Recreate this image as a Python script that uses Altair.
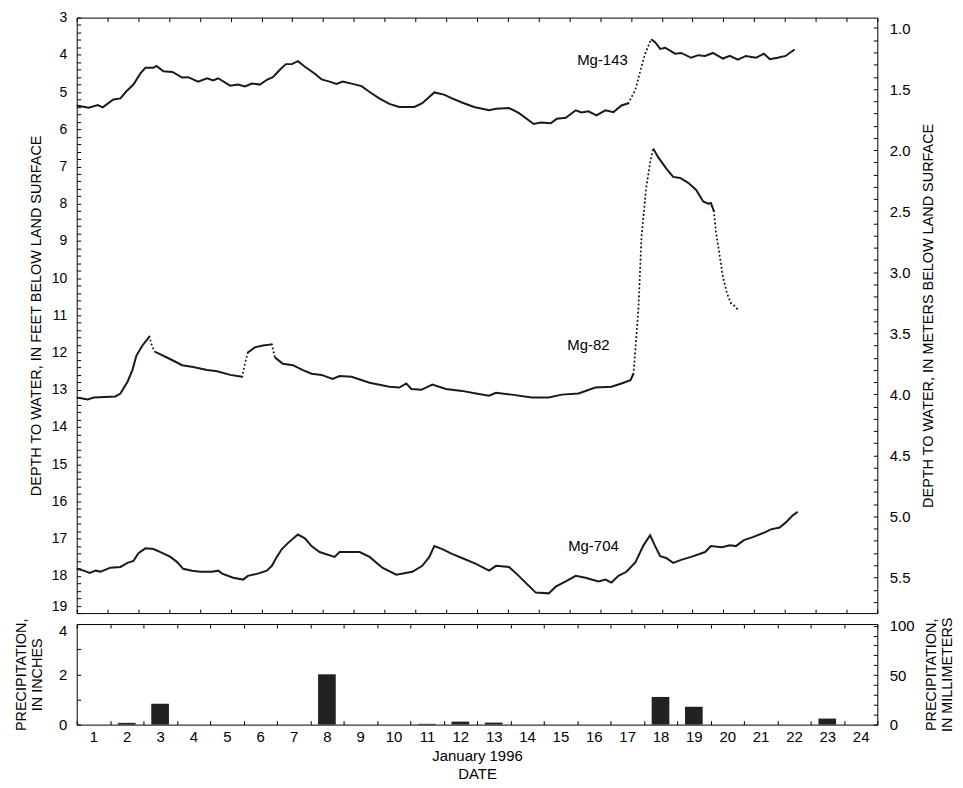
import altair as alt
import pandas as pd

FONT = "Liberation Sans"

# ---- Hydrograph data (day of January 1996, depth in feet) ----
mg143_day = [1.00, 1.36, 1.63, 1.78, 2.10, 2.31, 2.49, 2.70, 2.91, 3.06, 3.30, 3.39, 3.60, 3.87,
             4.16, 4.34, 4.64, 4.91, 5.09, 5.24, 5.60, 5.84, 6.04, 6.25, 6.49, 6.70, 6.88, 7.09,
             7.27, 7.45, 7.63, 7.84, 8.13, 8.34, 8.58, 8.79, 8.97, 9.27, 9.54, 9.78, 10.07, 10.37,
             10.67, 11.12, 11.36, 11.72, 12.01, 12.25, 12.55, 12.91, 13.36, 13.57, 13.96, 14.25,
             14.70, 14.91, 15.21, 15.39, 15.66, 15.96, 16.13, 16.34, 16.58, 16.85, 17.09, 17.33,
             17.54, 17.75, 17.93, 18.04, 18.22, 18.34, 18.49, 18.64, 18.94, 19.12, 19.42, 19.63,
             19.84, 20.07, 20.37, 20.58, 20.82, 21.06, 21.36, 21.60, 21.78, 22.01, 22.25, 22.40, 22.52]
mg143_ft = [5.36, 5.42, 5.35, 5.41, 5.20, 5.17, 4.98, 4.80, 4.50, 4.35, 4.35, 4.30, 4.44, 4.46,
            4.61, 4.60, 4.72, 4.63, 4.69, 4.63, 4.83, 4.80, 4.85, 4.77, 4.80, 4.67, 4.60, 4.40,
            4.25, 4.25, 4.17, 4.32, 4.50, 4.66, 4.72, 4.78, 4.72, 4.78, 4.84, 5.00, 5.17, 5.32,
            5.40, 5.40, 5.30, 5.01, 5.07, 5.17, 5.28, 5.40, 5.49, 5.45, 5.43, 5.56,
            5.86, 5.82, 5.84, 5.72, 5.69, 5.49, 5.55, 5.52, 5.63, 5.49, 5.54, 5.36,
            5.30, 4.93, 4.32, 3.97, 3.58, 3.66, 3.84, 3.81, 3.97, 3.95, 4.08, 4.01,
            4.03, 3.95, 4.10, 4.03, 4.13, 4.03, 4.08, 3.97, 4.12, 4.08, 4.03, 3.93, 3.86]

mg82_day = [1.00, 1.33, 1.51, 2.16, 2.31, 2.52, 2.67, 2.79, 2.97, 3.18, 3.27, 3.36, 3.45, 3.81,
            4.16, 4.49, 4.91, 5.21, 5.60, 5.96, 6.04, 6.13, 6.34, 6.58, 6.85, 6.94, 7.18, 7.48,
            7.78, 8.04, 8.34, 8.67, 8.88, 9.24, 9.78, 10.37, 10.67, 10.88, 11.03, 11.33, 11.66,
            12.07, 12.55, 12.97, 13.36, 13.57, 14.04, 14.64, 15.15, 15.54, 16.04, 16.55, 17.03,
            17.33, 17.60, 17.69, 17.78, 17.84, 17.93, 18.07, 18.19, 18.28, 18.43, 18.67, 18.88,
            19.09, 19.33, 19.57, 19.78, 19.93, 20.01, 20.10, 20.16, 20.28, 20.37, 20.49, 20.61,
            20.73, 20.82]
mg82_ft = [13.21, 13.26, 13.21, 13.18, 13.10, 12.79, 12.47, 12.08, 11.81, 11.57, 11.86, 11.99, 12.02, 12.18,
           12.34, 12.39, 12.47, 12.50, 12.60, 12.65, 12.31, 12.00, 11.86, 11.81, 11.78, 12.13, 12.30, 12.34,
           12.47, 12.57, 12.60, 12.71, 12.63, 12.65, 12.81, 12.92, 12.94, 12.83, 12.98, 13.00, 12.86,
           12.98, 13.03, 13.10, 13.16, 13.08, 13.13, 13.21, 13.21, 13.13, 13.10, 12.94, 12.92,
           12.83, 12.74, 12.57, 11.54, 10.80, 8.90, 7.58, 6.89, 6.52, 6.75, 7.05, 7.28,
           7.31, 7.44, 7.63, 7.94, 8.00, 7.98, 8.20, 8.74, 9.43, 9.96, 10.40, 10.67,
           10.75, 10.85]

mg704_day = [1.00, 1.21, 1.39, 1.57, 1.72, 2.01, 2.31, 2.52, 2.70, 2.85, 3.06, 3.30, 3.51, 3.81,
             4.01, 4.19, 4.46, 4.70, 5.06, 5.24, 5.36, 5.69, 5.99, 6.13, 6.43, 6.70, 6.85, 7.00,
             7.15, 7.33, 7.63, 7.84, 8.04, 8.28, 8.73, 8.88, 9.48, 9.78, 10.16, 10.58, 11.06,
             11.36, 11.57, 11.72, 11.96, 12.25, 12.55, 12.97, 13.36, 13.57, 13.96, 14.25, 14.76,
             15.15, 15.36, 15.66, 15.96, 16.25, 16.64, 16.85, 17.03, 17.24, 17.48, 17.75, 17.99,
             18.19, 18.34, 18.49, 18.67, 18.88, 19.12, 19.42, 19.84, 20.01, 20.34, 20.58, 20.76,
             21.00, 21.27, 21.63, 21.81, 22.07, 22.25, 22.46, 22.61]
mg704_ft = [17.81, 17.86, 17.92, 17.86, 17.89, 17.78, 17.76, 17.65, 17.60, 17.39, 17.26, 17.28, 17.36, 17.49,
            17.63, 17.81, 17.86, 17.89, 17.89, 17.86, 17.94, 18.05, 18.10, 18.00, 17.94, 17.86, 17.73, 17.49,
            17.28, 17.12, 16.89, 16.99, 17.20, 17.36, 17.49, 17.36, 17.36, 17.49, 17.78, 17.97, 17.89,
            17.73, 17.49, 17.20, 17.28, 17.41, 17.52, 17.68, 17.86, 17.73, 17.76, 18.00, 18.45,
            18.47, 18.29, 18.15, 18.00, 18.05, 18.15, 18.10, 18.18, 18.00, 17.89, 17.63, 17.18,
            16.91, 17.20, 17.47, 17.52, 17.65, 17.57, 17.49, 17.36, 17.20, 17.23, 17.18, 17.20,
            17.04, 16.96, 16.83, 16.75, 16.70, 16.57, 16.38, 16.28]

# Stretches drawn as sparse dots in the original (day ranges)
mg143_dotted = [(17.54, 18.22)]
mg82_dotted = [(3.18, 3.36), (5.96, 6.13), (6.85, 6.94), (17.69, 18.28), (20.10, 20.82)]
mg704_dotted = []

# ---- Well labels ----
label_names = ["Mg-143", "Mg-82", "Mg-704"]
label_day = [16.76, 16.34, 16.49]
label_ft = [4.14, 11.81, 17.20]

# ---- Daily precipitation (inches) ----
precip_days = list(range(1, 25))
precip_in = [0, 0.07, 0.83, 0, 0, 0, 0, 2.0, 0, 0, 0.03, 0.12,
             0.08, 0, 0, 0, 0, 1.10, 0.71, 0, 0, 0, 0.24, 0]

FT_PER_M = 3.2808
MM_PER_IN = 25.4


def segments(name, days, fts, dotted):
    """Split a series into solid / dotted runs, sharing boundary points."""
    def style_of(d0, d1):
        for a, b in dotted:
            if d0 >= a - 1e-9 and d1 <= b + 1e-9:
                return "dotted"
        return "solid"
    out = []
    seg = 0
    prev_style = None
    for i in range(len(days) - 1):
        st = style_of(days[i], days[i + 1])
        if st != prev_style:
            seg += 1
            prev_style = st
        for j in (i, i + 1):
            out.append({"series": name, "seg": f"{name}-{seg}", "style": st,
                        "order": j, "day": days[j], "ft": fts[j], "m": fts[j] / FT_PER_M})
    return out


rows = []
rows += segments("Mg-143", mg143_day, mg143_ft, mg143_dotted)
rows += segments("Mg-82", mg82_day, mg82_ft, mg82_dotted)
rows += segments("Mg-704", mg704_day, mg704_ft, mg704_dotted)
df = pd.DataFrame(rows).drop_duplicates(subset=["seg", "order"])
lab_df = pd.DataFrame({"name": label_names, "day": label_day, "ft": label_ft})
pdf = pd.DataFrame({"day": precip_days, "inches": precip_in})
pdf["mm"] = pdf["inches"] * MM_PER_IN

W = 804
H_TOP = 598
H_BOT = 101
TICK = 4

day_scale = alt.Scale(domain=[1, 25], nice=False, zero=False)
ft_scale = alt.Scale(domain=[3, 19], reverse=True, nice=False, zero=False)
m_scale = alt.Scale(domain=[3 / FT_PER_M, 19 / FT_PER_M], reverse=True, nice=False, zero=False)

x_top_ticks = [round(1 + k * 24 / 26, 4) for k in range(27)]
ft_ticks = [round(3 + 0.2 * k, 1) for k in range(81)]
m_ticks = [round(1.0 + 0.1 * k, 1) for k in range(48)]

common_axis = dict(domain=False, grid=False, tickSize=TICK, offset=-TICK, tickColor="black",
                   labelFont=FONT, titleFont=FONT, labelColor="black", titleColor="black",
                   titleFontWeight="normal", labelOverlap=False, labelFlush=False, minExtent=0)

x_bottom_axis = alt.Axis(orient="bottom", values=x_top_ticks, labels=False, title=None, **common_axis)
x_top_axis = alt.Axis(orient="top", values=x_top_ticks, labels=False, title=None, **common_axis)

ft_axis = alt.Axis(orient="left", values=ft_ticks,
                   labelExpr="abs(datum.value - round(datum.value)) < 0.01 ? format(datum.value, 'd') : ''",
                   labelFontSize=14, labelPadding=10, labelAlign="right",
                   labelBaseline={"condition": {"test": "datum.value > 18.9", "value": "bottom"},
                                  "value": "middle"},
                   title="DEPTH TO WATER, IN FEET BELOW LAND SURFACE", titleFontSize=14.5,
                   titlePadding=8, **common_axis)
m_axis = alt.Axis(orient="right", values=m_ticks,
                  labelExpr="abs(datum.value * 2 - round(datum.value * 2)) < 0.01 ? format(datum.value, '.1f') : ''",
                  labelFontSize=15, labelPadding=12, labelAlign="left",
                  title="DEPTH  TO WATER, IN METERS BELOW LAND SURFACE", titleFontSize=14.5,
                  titleAngle=270, titleBaseline="top", titlePadding=12, **common_axis)

solid = alt.Chart(df).transform_filter(alt.datum.style == "solid").mark_line(
    color="#1a1a1a", strokeWidth=2).encode(
    x=alt.X("day:Q", scale=day_scale, axis=x_bottom_axis),
    y=alt.Y("ft:Q", scale=ft_scale, axis=ft_axis),
    detail="seg:N",
    order="order:Q",
)
dotted = alt.Chart(df).transform_filter(alt.datum.style == "dotted").mark_line(
    color="#1a1a1a", strokeWidth=2, strokeDash=[0.1, 4], strokeCap="round").encode(
    x=alt.X("day:Q", scale=day_scale, axis=None),
    y=alt.Y("ft:Q", scale=ft_scale, axis=None),
    detail="seg:N",
    order="order:Q",
)
labels = alt.Chart(lab_df).mark_text(font=FONT, fontSize=15, color="black").encode(
    x=alt.X("day:Q", scale=day_scale, axis=None),
    y=alt.Y("ft:Q", scale=ft_scale, axis=None),
    text="name:N",
)
right_axis = alt.Chart(df).mark_point(opacity=0).encode(
    x=alt.X("day:Q", scale=day_scale, axis=x_top_axis),
    y=alt.Y("m:Q", scale=m_scale, axis=m_axis),
)
top = alt.layer(solid, dotted, labels, right_axis).resolve_scale(y="independent").resolve_axis(
    x="independent", y="independent").properties(width=W, height=H_TOP)

# ---- Precipitation panel ----
band_x = alt.Scale(domain=precip_days, paddingInner=0, paddingOuter=0)
px_bottom = alt.Axis(orient="bottom", tickBand="extent", labelAngle=0, labelFontSize=15,
                     labelPadding=5, labelBaseline="top",
                     title=["January 1996", "DATE"], titleFontSize=15, titleLineHeight=18,
                     titlePadding=4, **common_axis)
px_top = alt.Axis(orient="top", tickBand="extent", labels=False, title=None, **common_axis)
in_axis = alt.Axis(orient="left", values=[0, 1, 2, 3, 4],
                   labelExpr="datum.value % 2 == 0 ? datum.label : ''",
                   labelFontSize=15, labelPadding=10, labelAlign="right",
                   labelBaseline={"condition": {"test": "datum.value > 3.9", "value": "top"},
                                  "value": "middle"},
                   title=["PRECIPITATION,", "IN INCHES"], titleFontSize=14.5, titleLineHeight=16,
                   titlePadding=14, **common_axis)
mm_axis = alt.Axis(orient="right", values=[0, 10, 20, 30, 40, 50, 60, 70, 80, 90, 100],
                   labelExpr="datum.value % 50 == 0 ? datum.label : ''",
                   labelFontSize=15, labelPadding=12, labelAlign="left",
                   title=["PRECIPITATION,", "IN MILLIMETERS"], titleFontSize=14.5, titleLineHeight=16,
                   titleAngle=270, titleBaseline="top", titlePadding=-6, **common_axis)

bars = alt.Chart(pdf).mark_bar(color="#222222", width=alt.RelativeBandSize(0.53)).encode(
    x=alt.X("day:O", scale=band_x, axis=px_bottom),
    y=alt.Y("inches:Q", scale=alt.Scale(domain=[0, 4], nice=False), axis=in_axis),
)
mm_layer = alt.Chart(pdf).mark_point(opacity=0).encode(
    x=alt.X("day:O", scale=band_x, axis=px_top),
    y=alt.Y("mm:Q", scale=alt.Scale(domain=[0, 4 * MM_PER_IN], nice=False), axis=mm_axis),
)
bottom = alt.layer(bars, mm_layer).resolve_scale(y="independent").resolve_axis(
    x="independent", y="independent").properties(width=W, height=H_BOT)

chart = alt.vconcat(top, bottom, spacing=11, bounds="flush").configure_view(
    stroke="black", strokeWidth=1
).properties(padding={"left": 5, "top": 0, "right": 0, "bottom": 0})

chart.save("out.html", embed_options={"renderer": "svg", "actions": False})
